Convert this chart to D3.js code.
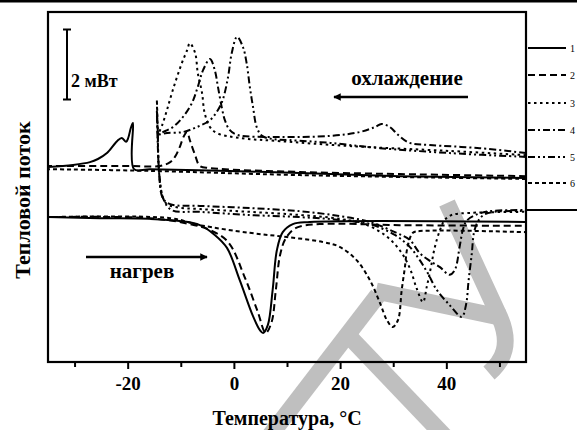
<!DOCTYPE html>
<html>
<head>
<meta charset="utf-8">
<script src="https://cdnjs.cloudflare.com/ajax/libs/d3/7.8.5/d3.min.js"></script>
<style>
  body { margin: 0; background: #fff; }
</style>
</head>
<body>
<script>
// температура, °C / тепловой поток, мВт (ось Y без делений, только масштаб 2 мВт)
const seriesNames = ['1', '2', '3', '4', '5', '6'];
const xTicks = [-20, 0, 20, 40];
const xMinorTicks = [-30, -10, 10, 30, 50];

// охлаждение (от 55 °C вниз)
const cool1 = [[55, 5.26], [31.2, 5.31], [12.4, 5.40], [-0.8, 5.46], [-15.8, 5.51], [-18.8, 5.51], [-19.0, 6.83], [-19.4, 6.69],
  [-19.9, 6.40], [-20.3, 6.29], [-21.1, 6.40], [-22.0, 6.31], [-23.9, 5.97], [-25.6, 5.80], [-27.1, 5.71], [-30.3, 5.63], [-35, 5.57]];
const cool2 = [[55, 5.31], [31.2, 5.37], [12.4, 5.43], [-4.5, 5.54], [-6.4, 5.60], [-7.3, 5.91], [-8.3, 6.34], [-8.8, 6.57],
  [-9.4, 6.46], [-10.2, 6.14], [-11.1, 5.86], [-12.0, 5.71], [-13.9, 5.60], [-19.6, 5.60], [-35, 5.60]];
const cool3 = [[55, 5.91], [40.6, 6.03], [21.8, 6.17], [8.7, 6.31], [1.1, 6.40], [-3.2, 6.54], [-4.5, 6.71], [-5.5, 7.11],
  [-6.0, 7.69], [-6.8, 8.26], [-7.3, 8.83], [-8.3, 9.11], [-8.8, 8.91], [-9.8, 8.54], [-11.5, 7.77], [-12.6, 7.20], [-13.5, 6.77], [-14.3, 6.49]];
const cool4 = [[55, 5.97], [46.3, 6.11], [36.9, 6.20], [33.1, 6.26], [30.9, 6.49], [29.4, 6.71], [27.8, 6.80], [26.5, 6.71],
  [23.7, 6.57], [18.1, 6.46], [8.7, 6.43], [0.6, 6.49], [-0.8, 6.63], [-1.7, 6.91], [-2.3, 7.29], [-3.0, 7.86], [-3.6, 8.34],
  [-4.5, 8.66], [-5.8, 8.34], [-6.8, 7.86], [-7.9, 7.40], [-9.6, 7.00], [-11.5, 6.71], [-13.4, 6.57], [-14.3, 6.51]];
const cool5 = [[55, 5.86], [40.6, 5.97], [27.5, 6.11], [18.1, 6.26], [10.5, 6.34], [7.3, 6.37], [5.3, 6.46], [4.3, 6.71],
  [3.6, 7.29], [3.0, 7.86], [2.4, 8.54], [1.7, 9.00], [0.6, 9.29], [-0.4, 8.83], [-1.1, 8.14], [-2.1, 7.49], [-3.0, 7.20],
  [-4.5, 6.91], [-7.0, 6.71], [-9.6, 6.57], [-12.6, 6.54], [-14.3, 6.49]];
const cool6 = [[55, 5.23], [12.4, 5.34], [-15.8, 5.46], [-35, 5.51]];

// нагрев
const heat1 = [[-35, 4.14], [-25.2, 4.11], [-15.8, 4.09], [-10.2, 4.03], [-6.4, 3.91], [-3.6, 3.63], [-1.3, 3.26], [1.1, 2.34],
  [3.6, 1.31], [4.9, 0.91], [5.5, 0.83], [6.4, 1.06], [7.3, 2.06], [8.1, 3.20], [9.2, 3.71], [11.1, 3.94], [14.3, 4.00], [55, 4.00]];
const heat2 = [[-35, 4.14], [-15.8, 4.11], [-8.3, 3.94], [-4.5, 3.77], [-1.1, 3.43], [2.1, 2.40], [4.5, 1.43], [6.0, 0.83],
  [7.1, 1.14], [7.9, 2.06], [8.7, 3.06], [9.8, 3.54], [11.7, 3.83], [16.2, 3.94], [31.2, 3.91], [55, 3.89]];
const heat3 = [[-14.3, 6.49], [-14.5, 7.49], [-14.3, 6.20], [-14.1, 5.43], [-13.5, 4.77], [-12.8, 4.54], [-11.1, 4.43], [-6.4, 4.37],
  [3.0, 4.29], [12.4, 4.20], [19.9, 4.09], [24.6, 3.94], [28.4, 3.63], [31.2, 3.20], [33.1, 2.69], [34.4, 2.11], [35.6, 1.71],
  [36.3, 2.14], [37.1, 2.71], [37.8, 3.26], [38.8, 3.77], [39.7, 4.06], [41.0, 4.20], [44.4, 4.26], [55, 4.29]];
const heat4 = [[-14.3, 6.51], [-14.5, 7.20], [-14.1, 5.49], [-13.4, 4.69], [-12.0, 4.51], [-6.4, 4.46], [3.0, 4.40], [12.4, 4.31],
  [19.9, 4.17], [25.6, 4.00], [30.3, 3.71], [33.1, 3.49], [35.0, 3.11], [36.9, 2.89], [38.8, 2.71], [40.6, 2.49], [41.6, 2.63],
  [42.5, 3.29], [43.1, 3.77], [43.8, 4.03], [45.5, 4.20], [48.2, 4.31], [55, 4.34]];
const heat5 = [[-14.3, 6.49], [-14.1, 5.43], [-13.2, 4.63], [-11.7, 4.34], [-6.4, 4.29], [3.0, 4.20], [12.4, 4.14], [19.9, 4.06],
  [25.6, 3.94], [30.3, 3.63], [33.1, 3.29], [35.0, 2.91], [36.5, 2.54], [38.2, 2.06], [40.6, 1.63], [42.9, 1.29], [43.7, 1.63],
  [44.2, 2.34], [44.8, 3.11], [45.2, 3.69], [45.9, 4.00], [47.0, 4.20], [48.9, 4.29], [55, 4.31]];
const heat6 = [[-35, 4.14], [-12.0, 4.11], [-6.4, 3.91], [3.0, 3.69], [10.0, 3.57], [16.7, 3.43], [19.9, 3.29], [23.1, 2.91],
  [25.6, 2.34], [27.5, 1.69], [28.8, 1.20], [29.9, 1.00], [30.9, 1.20], [31.6, 2.06], [32.2, 2.71], [32.7, 3.29], [33.7, 3.69],
  [35.0, 3.74], [55, 3.71]];

const coolData = [cool1, cool2, cool3, cool4, cool5, cool6];
const heatData = [heat1, heat2, heat3, heat4, heat5, heat6];

// стили линий для 1..6
const dashes = [null, '7,4', '2.5,3.5', '7,3,2,3', '7,3,2,3,2,3', '4,3'];

const FONT = '"Liberation Serif", "Times New Roman", serif';

const W = 577, H = 430;
const margin = {top: 12, right: 51, bottom: 68, left: 48};

const svg = d3.select('body').append('svg')
    .attr('width', W)
    .attr('height', H);

const x = d3.scaleLinear().domain([-35, 55]).range([margin.left, W - margin.right]);
const y = d3.scaleLinear().domain([0, 10]).range([H - margin.bottom, margin.top]);

// водяной знак (серый)
const wm = svg.append('g')
    .attr('fill', 'none')
    .attr('stroke', '#bfbfbf')
    .attr('stroke-width', 17);
wm.append('path').attr('d', 'M262,446 L378,295');
wm.append('path').attr('d', 'M343,330 L450,442');
wm.append('path').attr('d', 'M376,291 L504,318');
wm.append('path').attr('d', 'M447,203 L500,318 C511,344 504,360 489,373');

// верхняя линия страницы
svg.append('rect').attr('x', 0).attr('y', 0).attr('width', W).attr('height', 2.5).attr('fill', 'black');

const line = d3.line()
    .x(d => x(d[0]))
    .y(d => y(d[1]))
    .curve(d3.curveCatmullRom.alpha(0.5));

const curves = svg.append('g')
    .attr('fill', 'none')
    .attr('stroke', 'black')
    .attr('stroke-width', 2);

coolData.forEach((d, i) => {
  curves.append('path').attr('d', line(d)).attr('stroke-dasharray', dashes[i]);
});
heatData.forEach((d, i) => {
  curves.append('path').attr('d', line(d)).attr('stroke-dasharray', dashes[i]);
});

// рамка
svg.append('rect')
    .attr('x', x(-35))
    .attr('y', y(10))
    .attr('width', x(55) - x(-35))
    .attr('height', y(0) - y(10))
    .attr('fill', 'none')
    .attr('stroke', 'black')
    .attr('stroke-width', 2.2);

// ось X
const xAxis = svg.append('g')
    .attr('transform', 'translate(0,' + y(0) + ')')
    .call(d3.axisBottom(x).tickValues(xTicks).tickSize(7).tickPadding(8).tickFormat(d3.format('d')));
xAxis.select('.domain').remove();
xAxis.selectAll('line').attr('stroke-width', 2);
xAxis.selectAll('text').attr('font-size', 19).attr('font-family', FONT).attr('font-weight', 'bold')
    .text(d => d < 0 ? '-' + Math.abs(d) : d);

const xMinor = svg.append('g')
    .attr('transform', 'translate(0,' + y(0) + ')')
    .call(d3.axisBottom(x).tickValues(xMinorTicks).tickSize(5).tickFormat(''));
xMinor.select('.domain').remove();
xMinor.selectAll('line').attr('stroke-width', 2);

function label(x0, y0, size, txt, anchor) {
  return svg.append('text')
      .attr('x', x0)
      .attr('y', y0)
      .attr('text-anchor', anchor || 'start')
      .attr('font-family', FONT)
      .attr('font-weight', 'bold')
      .attr('font-size', size)
      .text(txt);
}

label(287, 425, 20, 'Температура, °C', 'middle');
label(0, 0, 22, 'Тепловой поток', 'middle').attr('transform', 'translate(30,200) rotate(-90)');

// масштаб 2 мВт
const barX = 67;
const bar = svg.append('g').attr('stroke', 'black').attr('stroke-width', 2);
bar.append('line').attr('x1', barX).attr('x2', barX).attr('y1', y(9.5)).attr('y2', y(7.5));
bar.append('line').attr('x1', barX - 4).attr('x2', barX + 4).attr('y1', y(9.5)).attr('y2', y(9.5));
bar.append('line').attr('x1', barX - 4).attr('x2', barX + 4).attr('y1', y(7.5)).attr('y2', y(7.5));
label(71, 87, 18, '2 мВт');

// подписи направлений
svg.append('defs').append('marker')
    .attr('id', 'arr')
    .attr('viewBox', '0 0 10 10')
    .attr('refX', 9).attr('refY', 5)
    .attr('markerWidth', 4).attr('markerHeight', 3)
    .attr('orient', 'auto')
    .append('path').attr('d', 'M0,0 L10,5 L0,10 z').attr('fill', 'black');

label(407, 85, 21, 'охлаждение', 'middle');
svg.append('line').attr('x1', 468).attr('x2', 334).attr('y1', 97).attr('y2', 97)
    .attr('stroke', 'black').attr('stroke-width', 2.5).attr('marker-end', 'url(#arr)');

label(142, 278, 21, 'нагрев', 'middle');
svg.append('line').attr('x1', 86).attr('x2', 207).attr('y1', 257).attr('y2', 257)
    .attr('stroke', 'black').attr('stroke-width', 2.5).attr('marker-end', 'url(#arr)');

// легенда (в оригинале подписи почти не видны у края)
const legY = [48, 75, 103, 130, 157, 183];
const leg = svg.append('g');
seriesNames.forEach((n, i) => {
  leg.append('line')
      .attr('x1', 528).attr('x2', 566)
      .attr('y1', legY[i]).attr('y2', legY[i])
      .attr('stroke', 'black').attr('stroke-width', 2)
      .attr('stroke-dasharray', dashes[i]);
  leg.append('text')
      .attr('x', 570).attr('y', legY[i] + 4)
      .attr('font-family', FONT)
      .attr('font-size', 10)
      .text(n);
});
leg.append('line').attr('x1', x(55)).attr('x2', W).attr('y1', 210).attr('y2', 210)
    .attr('stroke', 'black').attr('stroke-width', 2);
</script>
</body>
</html>
